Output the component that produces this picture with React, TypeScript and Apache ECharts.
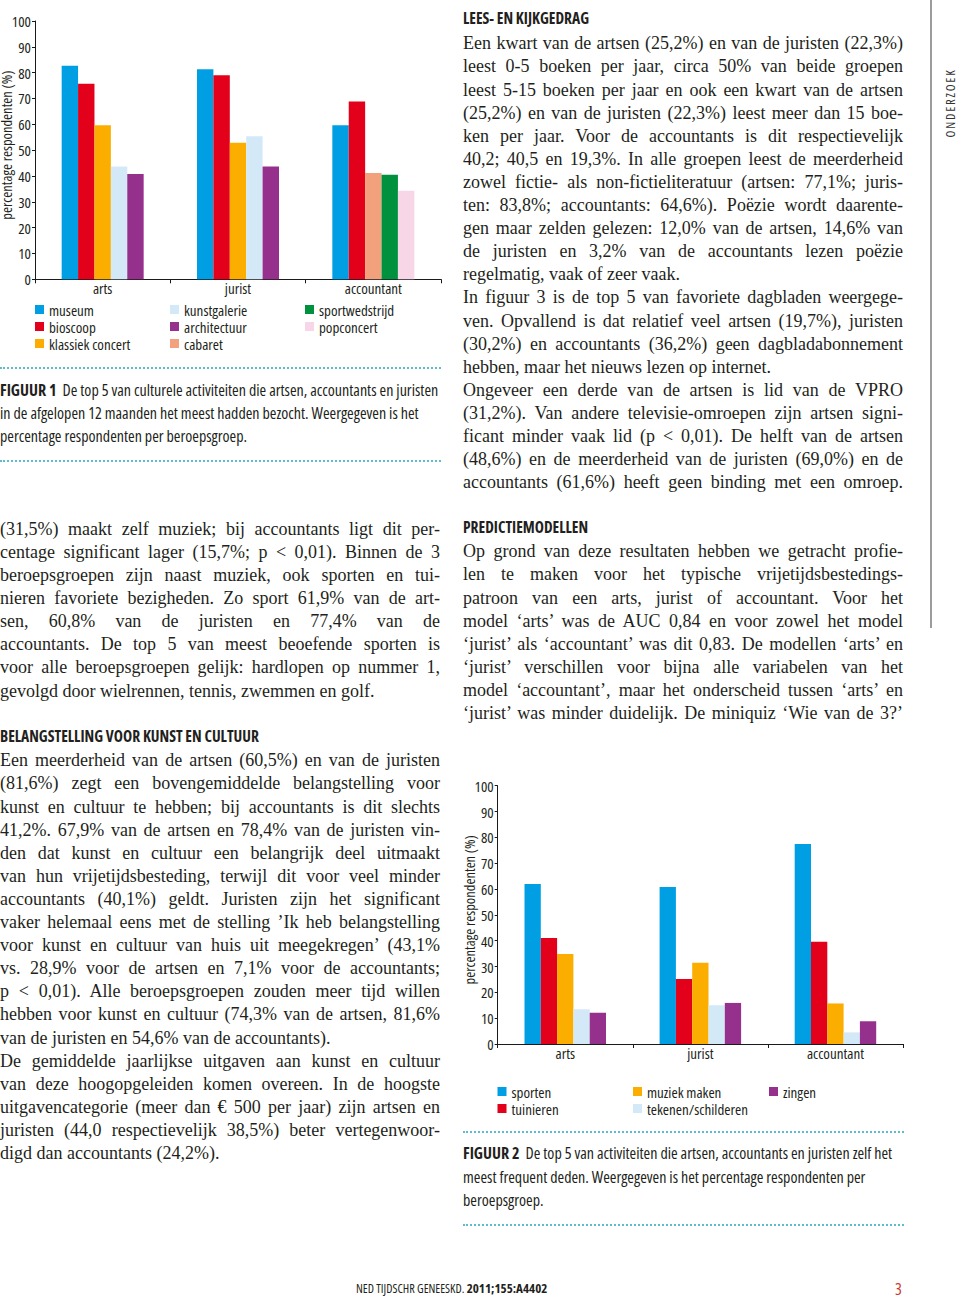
import React, { useEffect, useRef } from 'react';
import * as echarts from 'echarts';

// ---------- data ----------
const groups = ['arts', 'jurist', 'accountant'];
const yAxisName = 'percentage respondenten (%)';

const fig1Activities = ['museum', 'bioscoop', 'klassiek concert', 'kunstgalerie', 'architectuur', 'cabaret', 'sportwedstrijd', 'popconcert'];
const fig1Museum = [82.7, 81.3, 59.6];
const fig1Bioscoop = [75.7, 79.0, 68.8];
const fig1KlassiekConcert = [59.6, 52.9, null];
const fig1Kunstgalerie = [43.7, 55.4, null];
const fig1Architectuur = [40.8, 43.7, null];
const fig1Cabaret = [null, null, 41.2];
const fig1Sportwedstrijd = [null, null, 40.5];
const fig1Popconcert = [null, null, 34.3];
const fig1Colors = ['#009fe3', '#e2001a', '#fbae00', '#d3e9f8', '#95318c', '#f2a17c', '#00913f', '#f6d6e7'];

const fig2Activities = ['sporten', 'tuinieren', 'muziek maken', 'tekenen/schilderen', 'zingen'];
const fig2Sporten = [61.9, 60.8, 77.4];
const fig2Tuinieren = [41.0, 25.2, 39.6];
const fig2MuziekMaken = [34.8, 31.5, 15.7];
const fig2Tekenen = [13.5, 15.0, 4.5];
const fig2Zingen = [12.1, 15.9, 8.8];
const fig2Colors = ['#009fe3', '#e2001a', '#fbae00', '#d3e9f8', '#95318c'];

// ---------- texts ----------
const rightA = [
  'Een kwart van de artsen (25,2%) en van de juristen (22,3%)',
  'leest 0-5 boeken per jaar, circa 50% van beide groepen',
  'leest 5-15 boeken per jaar en ook een kwart van de artsen',
  '(25,2%) en van de juristen (22,3%) leest meer dan 15 boe-',
  'ken per jaar. Voor de accountants is dit respectievelijk',
  '40,2; 40,5 en 19,3%. In alle groepen leest de meerderheid',
  'zowel fictie- als non-fictieliteratuur (artsen: 77,1%; juris-',
  'ten: 83,8%; accountants: 64,6%). Poëzie wordt daarente-',
  'gen maar zelden gelezen: 12,0% van de artsen, 14,6% van',
  'de juristen en 3,2% van de accountants lezen poëzie',
  'regelmatig, vaak of zeer vaak.',
  'In figuur 3 is de top 5 van favoriete dagbladen weergege-',
  'ven. Opvallend is dat relatief veel artsen (19,7%), juristen',
  '(30,2%) en accountants (36,2%) geen dagbladabonnement',
  'hebben, maar het nieuws lezen op internet.',
  'Ongeveer een derde van de artsen is lid van de VPRO',
  '(31,2%). Van andere televisie-omroepen zijn artsen signi-',
  'ficant minder vaak lid (p < 0,01). De helft van de artsen',
  '(48,6%) en de meerderheid van de juristen (69,0%) en de',
  'accountants (61,6%) heeft geen binding met een omroep.',
];
const rightARagged = [10, 14];

const rightB = [
  'Op grond van deze resultaten hebben we getracht profie-',
  'len te maken voor het typische vrijetijdsbestedings-',
  'patroon van een arts, jurist of accountant. Voor het',
  'model ‘arts’ was de AUC 0,84 en voor zowel het model',
  '‘jurist’ als ‘accountant’ was dit 0,83. De modellen ‘arts’ en',
  '‘jurist’ verschillen voor bijna alle variabelen van het',
  'model ‘accountant’, maar het onderscheid tussen ‘arts’ en',
  '‘jurist’ was minder duidelijk. De miniquiz ‘Wie van de 3?’',
];

const leftA = [
  '(31,5%) maakt zelf muziek; bij accountants ligt dit per-',
  'centage significant lager (15,7%; p < 0,01). Binnen de 3',
  'beroepsgroepen zijn naast muziek, ook sporten en tui-',
  'nieren favoriete bezigheden. Zo sport 61,9% van de art-',
  'sen, 60,8% van de juristen en 77,4% van de',
  'accountants. De top 5 van meest beoefende sporten is',
  'voor alle beroepsgroepen gelijk: hardlopen op nummer 1,',
  'gevolgd door wielrennen, tennis, zwemmen en golf.',
];
const leftARagged = [7];

const leftB = [
  'Een meerderheid van de artsen (60,5%) en van de juristen',
  '(81,6%) zegt een bovengemiddelde belangstelling voor',
  'kunst en cultuur te hebben; bij accountants is dit slechts',
  '41,2%. 67,9% van de artsen en 78,4% van de juristen vin-',
  'den dat kunst en cultuur een belangrijk deel uitmaakt',
  'van hun vrijetijdsbesteding, terwijl dit voor veel minder',
  'accountants (40,1%) geldt. Juristen zijn het significant',
  'vaker helemaal eens met de stelling ’Ik heb belangstelling',
  'voor kunst en cultuur van huis uit meegekregen’ (43,1%',
  'vs. 28,9% voor de artsen en 7,1% voor de accountants;',
  'p < 0,01). Alle beroepsgroepen zouden meer tijd willen',
  'hebben voor kunst en cultuur (74,3% van de artsen, 81,6%',
  'van de juristen en 54,6% van de accountants).',
  'De gemiddelde jaarlijkse uitgaven aan kunst en cultuur',
  'van deze hoogopgeleiden komen overeen. In de hoogste',
  'uitgavencategorie (meer dan € 500 per jaar) zijn artsen en',
  'juristen (44,0 respectievelijk 38,5%) beter vertegenwoor-',
  'digd dan accountants (24,2%).',
];
const leftBRagged = [12, 17];

const cap1 = [
  'De top 5 van culturele activiteiten die artsen, accountants en juristen',
  'in de afgelopen 12 maanden het meest hadden bezocht. Weergegeven is het',
  'percentage respondenten per beroepsgroep.',
];
const cap2 = [
  'De top 5 van activiteiten die artsen, accountants en juristen zelf het',
  'meest frequent deden. Weergegeven is het percentage respondenten per',
  'beroepsgroep.',
];

// ---------- styles ----------
const SANS = "'Open Sans','Roboto Condensed',sans-serif";
const STRETCH = '75%';
const SERIF = "'Liberation Serif','DejaVu Serif',serif";
const INK = '#231f20';
const DOT = '#5fbccb';
const LH = 23.1;
const BODY_FS = 18;
const OS_ASC = 1.069;
const OS_DESC = 0.293;

function axisOption(grid: any, series: any[], legends: any[]) {
  const lineC = '#1a1a1a';
  return {
    animation: false,
    textStyle: { fontFamily: SANS },
    grid: { ...grid, containLabel: false, outerBoundsMode: 'none' },
    legend: legends,
    xAxis: {
      type: 'category',
      data: groups,
      axisLine: { lineStyle: { color: lineC, width: 1 } },
      axisTick: { show: true, length: 4, lineStyle: { color: lineC } },
      axisLabel: { color: INK, fontSize: 15, fontFamily: SANS, margin: 1 },
    },
    yAxis: {
      type: 'value',
      min: 0,
      max: 100,
      interval: 10,
      splitLine: { show: false },
      axisLine: { show: true, lineStyle: { color: lineC, width: 1 } },
      axisTick: { show: true, length: 3, lineStyle: { color: lineC } },
      axisLabel: { color: INK, fontSize: 15, fontFamily: SANS, margin: 4 },
      name: yAxisName,
      nameLocation: 'middle',
      nameGap: 21,
      nameMoveOverlap: false,
      nameTextStyle: { color: INK, fontSize: 14.5, fontFamily: SANS, padding: [0, 0, 0, 10] },
    },
    series,
  };
}

function legendCol(names: string[], left: number, top: number) {
  return {
    data: names,
    orient: 'vertical',
    left,
    top,
    icon: 'rect',
    itemWidth: 9,
    itemHeight: 9,
    itemGap: 2,
    padding: 0,
    selectedMode: false,
    textStyle: { color: INK, fontSize: 15, fontFamily: SANS, lineHeight: 15 },
  };
}

function fig1Option() {
  const values = [fig1Museum, fig1Bioscoop, fig1KlassiekConcert, fig1Kunstgalerie, fig1Architectuur, fig1Cabaret, fig1Sportwedstrijd, fig1Popconcert];
  const slots = ['p1', 'p2', 'p3', 'p4', 'p5', 'p3', 'p4', 'p5'];
  const series = fig1Activities.map((name, i) => ({
    name,
    type: 'bar',
    stack: slots[i],
    data: values[i],
    barWidth: 16.4,
    barGap: '0%',
    itemStyle: { color: fig1Colors[i] },
  }));
  return axisOption(
    { left: 35, top: 21, width: 406, height: 258.3 },
    series,
    [
      legendCol(fig1Activities.slice(0, 3), 35, 302),
      legendCol(fig1Activities.slice(3, 6), 170, 302),
      legendCol(fig1Activities.slice(6, 8), 305, 302),
    ]
  );
}

function fig2Option() {
  const values = [fig2Sporten, fig2Tuinieren, fig2MuziekMaken, fig2Tekenen, fig2Zingen];
  const series = fig2Activities.map((name, i) => ({
    name,
    type: 'bar',
    data: values[i],
    barWidth: 16.3,
    barGap: '0%',
    itemStyle: { color: fig2Colors[i] },
  }));
  return axisOption(
    { left: 37.7, top: 15.7, width: 405.3, height: 258.3 },
    series,
    [
      legendCol(fig2Activities.slice(0, 2), 37.5, 314),
      legendCol(fig2Activities.slice(2, 4), 173, 314),
      legendCol(fig2Activities.slice(4, 5), 309, 314),
    ]
  );
}

function Chart({ option, style }: { option: any; style: React.CSSProperties }) {
  const ref = useRef<HTMLDivElement>(null);
  useEffect(() => {
    const c = echarts.init(ref.current as HTMLDivElement, null, { renderer: 'svg' });
    c.setOption(option);
    return () => c.dispose();
  }, []);
  return <div ref={ref} style={{ ...style, fontStretch: STRETCH } as React.CSSProperties} />;
}

type LineProps = {
  x: number; base: number; w: number; text: React.ReactNode; fs: number; lh: number;
  family: string; weight?: number | string; justify?: boolean; color?: string;
  asc: number; desc: number; spacing?: number; stretch?: string;
};
function Line(p: LineProps) {
  const top = p.base - ((p.lh - (p.asc + p.desc) * p.fs) / 2 + p.asc * p.fs);
  return (
    <div
      style={{
        position: 'absolute', left: p.x, top, width: p.w, height: p.lh,
        lineHeight: `${p.lh}px`, fontSize: p.fs, fontFamily: p.family,
        fontWeight: p.weight ?? 400, color: p.color ?? INK, whiteSpace: 'nowrap',
        textAlign: p.justify ? 'justify' : 'left',
        textAlignLast: p.justify ? 'justify' : 'left',
        letterSpacing: p.spacing, fontStretch: p.stretch,
      } as React.CSSProperties}
    >
      {p.text}
    </div>
  );
}

function SansLine(p: Omit<LineProps, 'family' | 'asc' | 'desc'>) {
  return <Line {...p} family={SANS} stretch={STRETCH} asc={OS_ASC} desc={OS_DESC} />;
}

function Body({ x, base0, lines, ragged }: { x: number; base0: number; lines: string[]; ragged: number[] }) {
  return (
    <>
      {lines.map((t, i) => (
        <Line key={i} x={x} base={base0 + i * LH} w={440} text={t} fs={BODY_FS} lh={LH}
          family={SERIF} asc={0.891} desc={0.216} justify={!ragged.includes(i)} />
      ))}
    </>
  );
}

function Heading({ x, base, text }: { x: number; base: number; text: string }) {
  return <SansLine x={x} base={base} w={440} text={text} fs={15.5} lh={20} weight={700} />;
}

function Caption({ x, base0, label, lines }: { x: number; base0: number; label: string; lines: string[] }) {
  return (
    <>
      {lines.map((t, i) => (
        <SansLine key={i} x={x} base={base0 + i * 23.3} w={445} fs={16} lh={22}
          text={i === 0 ? (<><span style={{ fontWeight: 700 }}>{label}</span>{'\u00a0 ' + t}</>) : t} />
      ))}
    </>
  );
}

function Dotted({ x, y, w }: { x: number; y: number; w: number }) {
  return <div style={{ position: 'absolute', left: x, top: y - 1, width: w, height: 0, borderTop: `2px dotted ${DOT}` }} />;
}

export default function App() {
  return (
    <div style={{ position: 'absolute', left: 0, top: 0, width: 960, height: 1301, background: '#fff', overflow: 'hidden' }}>
      <Chart option={fig1Option()} style={{ position: 'absolute', left: 0, top: 0, width: 445, height: 360 }} />
      <Dotted x={0} y={368} w={441} />
      <Caption x={0} base0={396} label="FIGUUR 1" lines={cap1} />
      <Dotted x={0} y={461} w={441} />

      <Heading x={463} base={24.5} text="LEES- EN KIJKGEDRAG" />
      <Body x={463} base0={50} lines={rightA} ragged={rightARagged} />
      <Heading x={463} base={533.5} text="PREDICTIEMODELLEN" />
      <Body x={463} base0={558} lines={rightB} ragged={[]} />

      <Body x={0} base0={535.5} lines={leftA} ragged={leftARagged} />
      <Heading x={0} base={742.5} text="BELANGSTELLING VOOR KUNST EN CULTUUR" />
      <Body x={0} base0={767} lines={leftB} ragged={leftBRagged} />

      <Chart option={fig2Option()} style={{ position: 'absolute', left: 460, top: 770, width: 450, height: 360 }} />
      <Dotted x={463} y={1132} w={441} />
      <Caption x={463} base0={1159.5} label="FIGUUR 2" lines={cap2} />
      <Dotted x={463} y={1225} w={441} />

      <div style={{ position: 'absolute', left: 930, top: 0, width: 2, height: 628, background: '#9b9b9b' }} />
      <div style={{
        position: 'absolute', left: 951 - 45, top: 103 - 9, width: 90, height: 18, lineHeight: '18px',
        textAlign: 'center', fontFamily: SANS, fontStretch: STRETCH, fontSize: 12.5, letterSpacing: 1.8, color: '#333',
        transform: 'rotate(-90deg)', transformOrigin: '50% 50%',
      } as React.CSSProperties}>ONDERZOEK</div>

      <SansLine x={356} base={1293} w={300} fs={12.2} lh={16}
        text={<>NED TIJDSCHR GENEESKD. <span style={{ fontWeight: 700, fontSize: 13 }}>2011;155:A4402</span></>} />
      <SansLine x={895} base={1295} w={20} fs={16} lh={20} color="#c9372c" text="3" />
    </div>
  );
}
